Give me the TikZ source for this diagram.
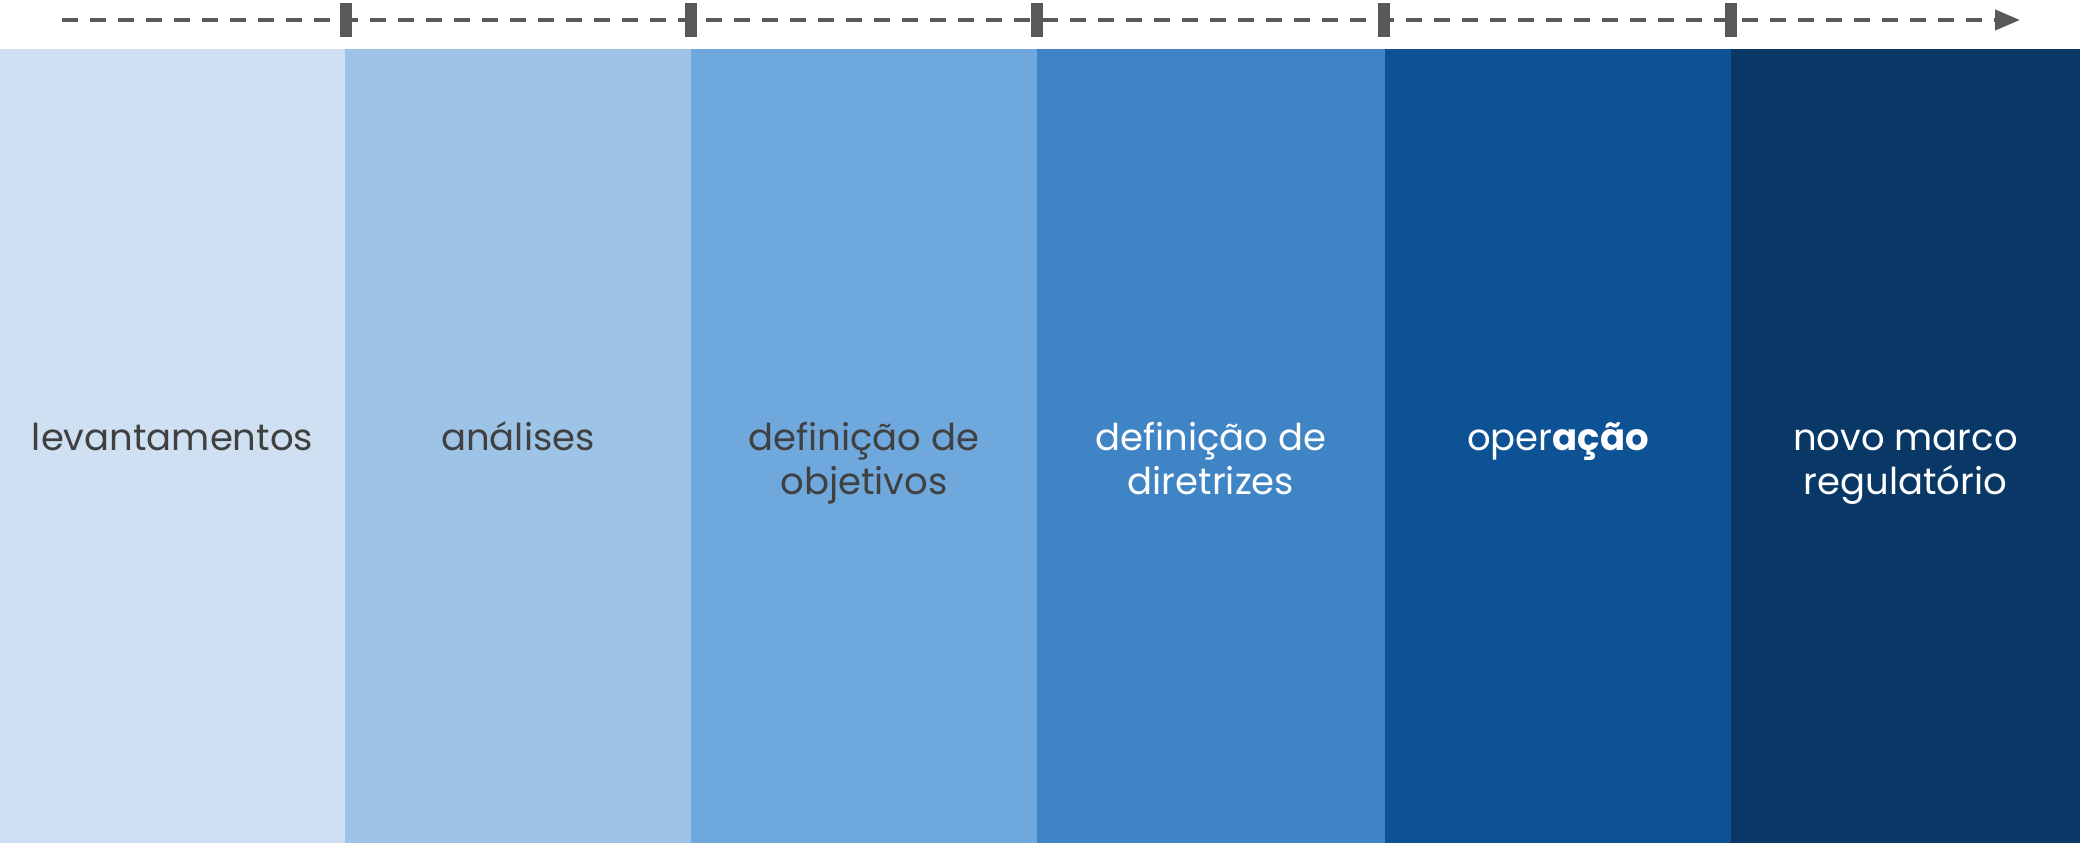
\documentclass[tikz,border=0pt]{standalone}
\usepackage{fontspec}
\setmainfont{Poppins}
\usetikzlibrary{arrows.meta}
\definecolor{faixaA}{HTML}{CFE0F2}
\definecolor{faixaB}{HTML}{9DC3E6}
\definecolor{faixaC}{HTML}{6FA8DC}
\definecolor{faixaD}{HTML}{3F85C6}
\definecolor{faixaE}{HTML}{0D5295}
\definecolor{faixaF}{HTML}{0A3866}
\definecolor{cinza}{HTML}{595959}
\definecolor{textoescuro}{HTML}{404040}
\begin{document}
\begin{tikzpicture}[x=1pt, y=1pt,
		etapa/.style={font=\fontsize{37}{44}\selectfont, align=center, anchor=base, inner sep=0pt},
		linha/.style={draw=cinza, line width=4pt, dash pattern=on 16pt off 12pt, -{Triangle[length=25pt,width=20pt]}},
		marca/.style={draw=none, fill=cinza}]
				\useasboundingbox (0,0) rectangle (2080,843);
				% faixas
				\draw[draw=none, fill=faixaA] (0,0) rectangle (345,794);
				\draw[draw=none, fill=faixaB] (345,0) rectangle (691,794);
				\draw[draw=none, fill=faixaC] (691,0) rectangle (1037,794);
				\draw[draw=none, fill=faixaD] (1037,0) rectangle (1385,794);
				\draw[draw=none, fill=faixaE] (1385,0) rectangle (1731,794);
				\draw[draw=none, fill=faixaF] (1731,0) rectangle (2080,794);
				% linha do tempo
				\coordinate (inicio) at (62,823);
				\coordinate (fim) at (2020,823);
				\draw[linha] (inicio) -- (fim);
				\foreach \x in {346,691,1037,1384,1731} {
					\draw[marca] (\x-6,806) rectangle ++(12,34);
				}
				% etapas (base = ultima linha)
				\node[etapa, text=textoescuro] (lev) at (172.5,392) {levantamentos};
				\node[etapa, text=textoescuro] (ana) at (518,392) {análises};
				\node[etapa, text=textoescuro] (obj) at (864,348) {definição de\\objetivos};
				\node[etapa, text=white] (dir) at (1211,348) {definição de\\diretrizes};
				\node[etapa, text=white] (ope) at (1558,392) {oper\textbf{ação}};
				\node[etapa, text=white] (mar) at (1905.5,348) {novo marco\\regulatório};
			\end{tikzpicture}
\end{document}
